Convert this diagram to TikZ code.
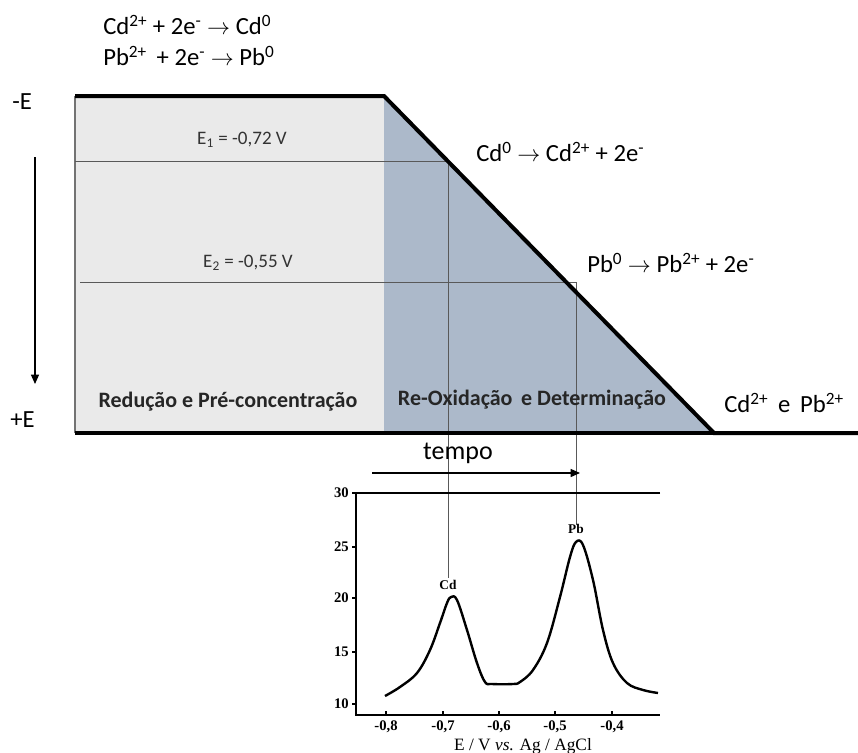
\documentclass[tikz,border=0pt]{standalone}
\usepackage{fontspec}
\setmainfont{Carlito}
\newfontfamily\chartfont{Liberation Serif}
\usetikzlibrary{arrows.meta}
\definecolor{lightfill}{HTML}{EAEAEA}
\definecolor{bluefill}{HTML}{ACB9CA}
\begin{document}
\begin{tikzpicture}[x=0.75pt,y=-0.75pt,
  txt/.style={inner sep=0pt,font=\fontsize{18.5}{21}\selectfont},
  elab/.style={inner sep=0pt,font=\fontsize{14.3}{16}\selectfont,text=black!80},
  blab/.style={inner sep=0pt,font=\fontsize{16.5}{19}\selectfont\bfseries,text=black!85},
  thinline/.style={draw=black!65,line width=0.6pt},
  thickline/.style={draw=black,line width=3pt},
  ticklab/.style={inner sep=0pt,font=\chartfont\fontsize{11}{12}\selectfont\bfseries},
  peaklab/.style={inner sep=0pt,font=\chartfont\fontsize{10}{11}\selectfont\bfseries}]
\useasboundingbox (0,0) rectangle (858,753);
% regions
\fill[lightfill] (75,96) rectangle (384,433);
\fill[bluefill] (384,96) -- (714,433) -- (384,433) -- cycle;
\draw[draw=black!55,line width=1.2pt] (75,96) -- (75,433);
% coordinates
\coordinate (tl) at (75,96);
\coordinate (tr) at (384,96);
\coordinate (br) at (714,433);
\coordinate (bl) at (75,433);
\coordinate (bend) at (858,433);
\coordinate (e1l) at (75,161);
\coordinate (e1r) at (448,161);
\coordinate (e2l) at (80,282);
\coordinate (e2r) at (576,282);
\coordinate (cdv) at (448,578);
\coordinate (pbv) at (576,525);
% potential lines
\draw[thinline] (e1l) -- (e1r) -- (cdv);
\draw[thinline] (e2l) -- (e2r) -- (pbv);
% thick profile
\draw[thickline,line join=miter] (tl) -- (tr) -- (br) -- (bend);
\draw[thickline] (bl) -- (br);
% texts
\node[txt,anchor=west] (r1) at (103,25) {Cd\textsuperscript{2+} + 2e\textsuperscript{-} $\rightarrow$ Cd\textsuperscript{0}};
\node[txt,anchor=west] (r2) at (103,56) {Pb\textsuperscript{2+}\, + 2e\textsuperscript{-} $\rightarrow$ Pb\textsuperscript{0}};
\node[txt,anchor=west] (mE) at (12,102) {-E};
\node[txt,anchor=west] (pE) at (10,420) {+E};
\node[elab] (E1) at (242,140) {E\textsubscript{1} = -0,72 V};
\node[elab] (E2) at (248,263) {E\textsubscript{2} = -0,55 V};
\node[blab] (red) at (228,402) {Redução e Pré-concentração};
\node[blab] (reox) at (532,400) {Re-Oxidação\, e Determinação};
\node[txt,anchor=west] (ox1) at (476,152) {Cd\textsuperscript{0} $\rightarrow$ Cd\textsuperscript{2+} + 2e\textsuperscript{-}};
\node[txt,anchor=west] (ox2) at (587,263) {Pb\textsuperscript{0} $\rightarrow$ Pb\textsuperscript{2+} + 2e\textsuperscript{-}};
\node[txt,anchor=west] (ions) at (724,403) {Cd\textsuperscript{2+}\, e\, Pb\textsuperscript{2+}};
% E arrow
\coordinate (ea1) at (35,157);
\coordinate (ea2) at (35,384);
\draw[line width=1pt,-{Triangle[length=7pt,width=6pt]}] (ea1) -- (ea2);
% time arrow
\node[txt,font=\fontsize{19.5}{22}\selectfont] (tempo) at (458,453) {tempo};
\coordinate (ta1) at (372,473);
\coordinate (ta2) at (580,473);
\draw[line width=1pt,-{Triangle[length=7pt,width=6pt]}] (ta1) -- (ta2);
% chart
\draw[line width=0.9pt] (660,493) -- (356,493) -- (356,715) -- (660,715);
\foreach \v/\y in {30/493,25/547,20/598,15/652,10/704} {
  \draw[line width=0.8pt] (352,\y) -- (356,\y);
  \node[ticklab,anchor=east] at (349,\y) {\v};
}
\foreach \l/\x in {-0{,}8/386,-0{,}7/443,-0{,}6/499,-0{,}5/555,-0{,}4/612} {
  \draw[line width=0.8pt] (\x,715) -- (\x,711);
  \node[ticklab] at (\x,727) {\l};
}
\node[inner sep=0pt,font=\chartfont\fontsize{13}{14}\selectfont] (xlab) at (523,746) {E / V \textit{vs.} Ag / AgCl};
\node[peaklab] (cdl) at (448,585) {Cd};
\node[peaklab] (pbl) at (576,529) {Pb};
\draw[line width=1.8pt,line join=round] plot[smooth,tension=0.6] coordinates {
 (385,696) (400,687) (417,673) (430,650) (440,623) (447,603) (451,597) (457,600)
 (467,630) (477,663) (485,682) (492,684) (513,684) (520,682) (533,670) (547,643)
 (560,597) (570,557) (576,542) (583,545) (593,580) (603,630) (613,663) (627,683)
 (643,690) (658,693)};
\end{tikzpicture}
\end{document}
